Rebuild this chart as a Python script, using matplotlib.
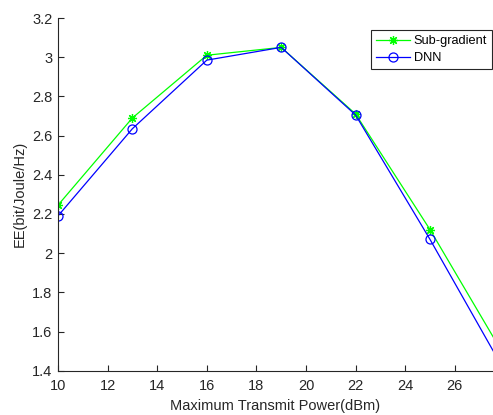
import matplotlib
matplotlib.use("Agg")
import matplotlib.pyplot as plt
from matplotlib.ticker import FuncFormatter

power_dbm = [10, 13, 16, 19, 22, 25, 28]
ee_subgradient = [2.245, 2.69, 3.01, 3.05, 2.71, 2.12, 1.475]
ee_dnn = [2.19, 2.635, 2.985, 3.05, 2.705, 2.07, 1.40]

x_ticks = [10, 12, 14, 16, 18, 20, 22, 24, 26]
y_ticks = [1.4, 1.6, 1.8, 2.0, 2.2, 2.4, 2.6, 2.8, 3.0, 3.2]

plt.rcParams.update({
    "font.family": ["Liberation Sans", "DejaVu Sans"],
    "font.size": 10.5,
})

fig = plt.figure(figsize=(4.93, 4.15), dpi=100)
ax = fig.add_axes([58 / 493, 44.3 / 415, 435 / 493, 352.7 / 415])

dark = "#262626"
ax.plot(power_dbm, ee_subgradient, color="#00ff00", linewidth=0.9, marker=(8, 2, 0),
        markersize=6.5, markeredgewidth=0.9, label="Sub-gradient")
ax.plot(power_dbm, ee_dnn, color="#0000ff", linewidth=0.9, marker="o",
        markersize=6.5, markerfacecolor="none", markeredgewidth=0.9, label="DNN")

ax.set_xlim(10, 27.54)
ax.set_ylim(1.4, 3.2)
ax.set_xticks(x_ticks)
ax.set_yticks(y_ticks)
ax.yaxis.set_major_formatter(FuncFormatter(lambda v, _: f"{v:g}"))
ax.spines["top"].set_visible(False)
ax.spines["right"].set_visible(False)
for side in ("left", "bottom"):
    ax.spines[side].set_color(dark)
    ax.spines[side].set_linewidth(0.8)
ax.tick_params(direction="in", length=4, width=0.8, colors=dark, labelsize=10.5)
ax.tick_params(axis="x", pad=6)
ax.tick_params(axis="y", pad=4)
ax.set_xlabel("Maximum Transmit Power(dBm)", color=dark, fontsize=10.5, labelpad=4)
ax.set_ylabel("EE(bit/Joule/Hz)", color=dark, fontsize=10.5, labelpad=4)

# legend frame: right edge ~490 px, top ~30 px in figure pixels
leg = ax.legend(loc="upper right",
                bbox_to_anchor=((492 - 58) / 435, 1 - 12 / 352.7),
                fancybox=False, edgecolor=dark, framealpha=1, fontsize=9.2,
                handlelength=2.6, borderpad=0.4, labelspacing=0.4, handletextpad=0.3,
                borderaxespad=0)
leg.get_frame().set_linewidth(0.8)

fig.savefig("out.png", dpi=100)
